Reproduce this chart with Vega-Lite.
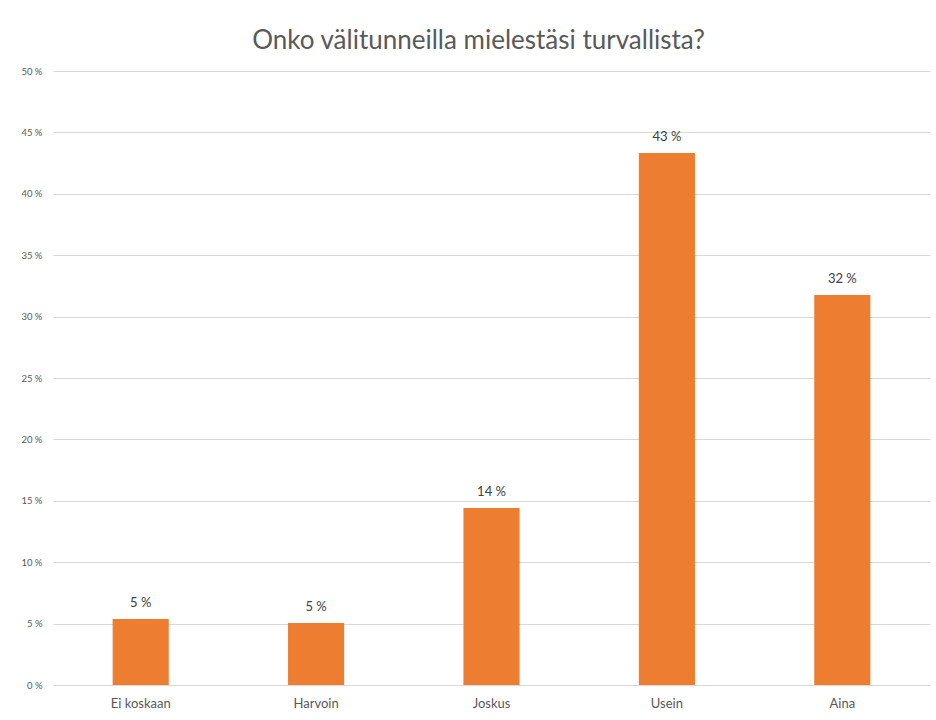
{
  "$schema": "https://vega.github.io/schema/vega-lite/v6.json",
  "width": 877,
  "height": 614,
  "autosize": {"type": "none"},
  "padding": {"left": 53, "top": 71, "right": 6, "bottom": 35},
  "background": "white",
  "title": {
    "text": "Onko välitunneilla mielestäsi turvallista?",
    "fontSize": 26,
    "font": "Lato",
    "fontWeight": "normal",
    "color": "#595959",
    "anchor": "middle",
    "offset": 12,
    "dx": -13
  },
  "data": {
    "values": [
      {"vastaus": "Ei koskaan", "osuus": 0.0537},
      {"vastaus": "Harvoin", "osuus": 0.0505},
      {"vastaus": "Joskus", "osuus": 0.1441},
      {"vastaus": "Usein", "osuus": 0.4332},
      {"vastaus": "Aina", "osuus": 0.3176}
    ]
  },
  "transform": [
    {"calculate": "format(datum.osuus * 100, '.0f') + ' %'", "as": "teksti"}
  ],
  "encoding": {
    "x": {
      "field": "vastaus",
      "type": "nominal",
      "sort": null,
      "scale": {"paddingInner": 0.68, "paddingOuter": 0.34},
      "axis": {
        "title": null,
        "labelAngle": 0,
        "domain": false,
        "ticks": false,
        "labelFont": "Lato",
        "labelFontSize": 13,
        "labelColor": "#595959",
        "labelPadding": 12
      }
    },
    "y": {
      "field": "osuus",
      "type": "quantitative",
      "scale": {"domain": [0, 0.5]},
      "axis": {
        "title": null,
        "values": [0, 0.05, 0.1, 0.15, 0.2, 0.25, 0.3, 0.35, 0.4, 0.45, 0.5],
        "labelExpr": "format(datum.value * 100, '.0f') + ' %'",
        "domain": false,
        "ticks": false,
        "grid": true,
        "gridColor": "#D9D9D9",
        "gridWidth": 1,
        "labelFont": "Lato",
        "labelFontSize": 9.5,
        "labelColor": "#595959",
        "labelPadding": 11
      }
    }
  },
  "layer": [
    {"mark": {"type": "bar", "color": "#ED7D31"}},
    {
      "mark": {
        "type": "text",
        "baseline": "bottom",
        "dy": -9,
        "font": "Lato",
        "fontSize": 13,
        "color": "#404040"
      },
      "encoding": {"text": {"field": "teksti", "type": "nominal"}}
    }
  ],
  "config": {"view": {"stroke": null}}
}
